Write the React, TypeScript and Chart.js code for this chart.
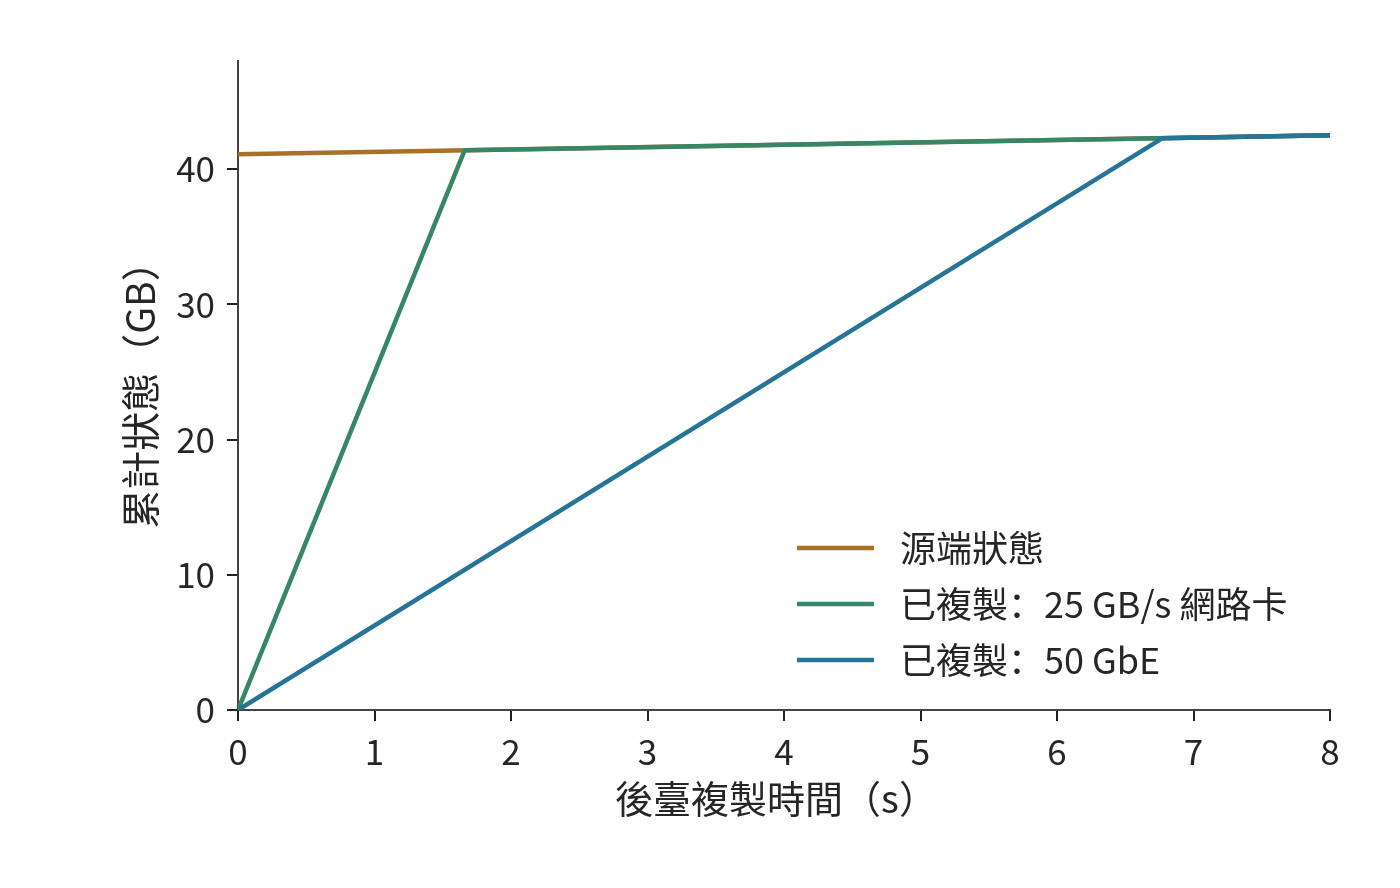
import React, { useEffect, useRef } from "react";
import { Chart, registerables } from "chart.js";

Chart.register(...registerables);

// ---- data ----
const sourceX = [0, 8];
const sourceY = [41.1, 42.5];
const nic25X = [0, 1.66, 8];
const nic25Y = [0, 41.39, 42.5];
const gbe50X = [0, 6.77, 8];
const gbe50Y = [0, 42.28, 42.5];
const xTicks = [0, 1, 2, 3, 4, 5, 6, 7, 8];
const yTicks = [0, 10, 20, 30, 40];
const seriesLabels = ["源端狀態", "已複製：25 GB/s 網路卡", "已複製：50 GbE"];
const xTitle = "後臺複製時間（s）";
const yTitle = "累計狀態（GB）";

const FONT = '"Noto Sans CJK SC", "Noto Sans", sans-serif';
const TEXT = "#262626";
const COLORS = ["#a87028", "#358766", "#267596"];

const toPts = (xs: number[], ys: number[]) => xs.map((x, i) => ({ x, y: ys[i] }));

const legendPlugin = {
  id: "innerLegend",
  afterDraw(chart: any, _args: any, opts: any) {
    const ctx = chart.ctx;
    ctx.save();
    ctx.font = `${opts.fontSize}px ${FONT}`;
    ctx.textBaseline = "middle";
    ctx.textAlign = "left";
    chart.data.datasets.forEach((ds: any, i: number) => {
      const y = opts.y + i * opts.rowGap;
      ctx.strokeStyle = ds.borderColor;
      ctx.lineWidth = ds.borderWidth;
      ctx.beginPath();
      ctx.moveTo(opts.x, y);
      ctx.lineTo(opts.x + opts.lineLen, y);
      ctx.stroke();
      ctx.fillStyle = TEXT;
      ctx.fillText(ds.label, opts.x + opts.textOffset, y);
    });
    ctx.restore();
  },
};

const xTitlePlugin = {
  id: "xTitleText",
  afterDraw(chart: any, _args: any, opts: any) {
    const ctx = chart.ctx;
    const a = chart.chartArea;
    ctx.save();
    ctx.font = `${opts.fontSize}px ${FONT}`;
    ctx.textBaseline = "middle";
    ctx.textAlign = "center";
    ctx.fillStyle = TEXT;
    ctx.fillText(opts.text, (a.left + a.right) / 2 + opts.dx, a.bottom + opts.dy);
    ctx.restore();
  },
};

export default function App() {
  const ref = useRef<HTMLCanvasElement | null>(null);
  useEffect(() => {
    document.body.style.margin = "0";
    const canvas = ref.current!;
    const chart = new Chart(canvas, {
      type: "line",
      data: {
        datasets: [
          { label: seriesLabels[0], data: toPts(sourceX, sourceY), borderColor: COLORS[0], backgroundColor: COLORS[0], borderWidth: 4.5, pointRadius: 0, order: 3 },
          { label: seriesLabels[1], data: toPts(nic25X, nic25Y), borderColor: COLORS[1], backgroundColor: COLORS[1], borderWidth: 4.5, pointRadius: 0, order: 2 },
          { label: seriesLabels[2], data: toPts(gbe50X, gbe50Y), borderColor: COLORS[2], backgroundColor: COLORS[2], borderWidth: 4.5, pointRadius: 0, order: 1 },
        ],
      },
      options: {
        animation: false,
        responsive: false,
        devicePixelRatio: 1,
        layout: { padding: { left: 0, top: 61, right: 70, bottom: 0 } },
        elements: { line: { tension: 0, borderJoinStyle: "round" } },
        plugins: {
          legend: { display: false },
          tooltip: { enabled: false },
          innerLegend: { x: 797, y: 548, rowGap: 56, lineLen: 77, textOffset: 103, fontSize: 36 },
          xTitleText: { text: xTitle, fontSize: 38, dx: -8, dy: 89 },
        } as any,
        scales: {
          x: {
            type: "linear",
            min: 0,
            max: 8,
            afterBuildTicks: (s: any) => { s.ticks = xTicks.map((v) => ({ value: v })); },
            afterFit: (s: any) => { s.height = 178; },
            ticks: { color: TEXT, font: { family: FONT, size: 35 }, padding: 10, maxRotation: 0 },
            grid: { drawOnChartArea: false, drawTicks: true, tickLength: 11, color: "#222", lineWidth: 2 },
            border: { display: true, color: "#444", width: 2 },
            title: { display: false },
          },
          y: {
            type: "linear",
            min: 0,
            max: 48,
            afterBuildTicks: (s: any) => { s.ticks = yTicks.map((v) => ({ value: v })); },
            afterFit: (s: any) => { s.width = 238; },
            ticks: { color: TEXT, font: { family: FONT, size: 35 }, padding: 12 },
            grid: { drawOnChartArea: false, drawTicks: true, tickLength: 11, color: "#222", lineWidth: 2 },
            border: { display: true, color: "#444", width: 2 },
            title: { display: true, text: yTitle, color: TEXT, font: { family: FONT, size: 39 }, padding: { top: 117, bottom: 0 } },
          },
        },
      },
      plugins: [legendPlugin, xTitlePlugin],
    });
    return () => chart.destroy();
  }, []);
  return (
    <div style={{ position: "absolute", left: 0, top: 0, width: 1400, height: 888, background: "#fff" }}>
      <canvas ref={ref} width={1400} height={888} />
    </div>
  );
}
